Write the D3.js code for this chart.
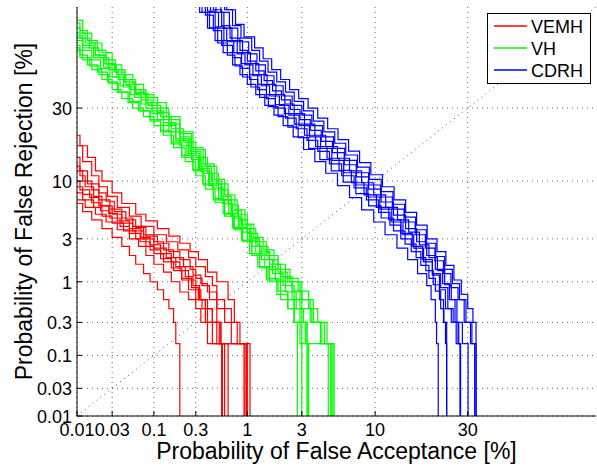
<!DOCTYPE html>
<html lang="en">
<head>
  <meta charset="UTF-8">
  <title>DET curves</title>
  <script src="https://d3js.org/d3.v7.min.js"></script>
  <style>
    body { margin: 0; padding: 0; background: #fff; }
    svg { display: block; font-family: "Liberation Sans", Arial, sans-serif; }
    .grid line { stroke: #666; stroke-width: 1; stroke-dasharray: 1,4; }
    .tick-label { font-size: 18px; fill: #000; }
    .axis-title { font-size: 23px; fill: #000; }
    .legend text { font-size: 18px; fill: #000; }
  </style>
</head>
<body>
  <div id="chart"></div>

  <script>
    // tick values in percent, shared by both axes
    const tickValues = [0.01, 0.03, 0.1, 0.3, 1, 3, 10, 30];
    const tickLabels = ['0.01', '0.03', '0.1', '0.3', '1', '3', '10', '30'];
    const axisLimits = [0.01, 70];

    const seriesNames = ['VEMH', 'VH', 'CDRH'];
    const seriesColors = ['#ff0000', '#00ff00', '#0000ff'];

    // each curve: [false acceptance %, false rejection %] points, drawn as steps
    const vemhCurves = [
      [[0,21],[0.011,18],[0.014,15],[0.018,12],[0.022,10],[0.03,8],[0.04,6.5],[0.06,5.2],[0.08,4.5],[0.11,3.8],[0.15,3.2],[0.2,2.7],[0.26,2.2],[0.32,1.8],[0.4,1.3],[0.5,1.0],[0.65,0.6],[0.75,0.3],[0.85,0.15],[1.06,0]],
      [[0,18],[0.012,14],[0.016,11],[0.02,9],[0.026,7.5],[0.035,6],[0.05,5],[0.07,4],[0.1,3.3],[0.14,2.8],[0.19,2.3],[0.25,1.9],[0.3,1.5],[0.38,1.15],[0.45,0.9],[0.5,0.6],[0.6,0.46],[0.7,0.3],[0.8,0.15],[0.95,0]],
      [[0,15],[0.011,12],[0.014,9.5],[0.02,8],[0.025,6.8],[0.032,5.5],[0.045,4.6],[0.06,3.9],[0.08,3.2],[0.11,2.7],[0.15,2.2],[0.2,1.8],[0.26,1.4],[0.3,1.1],[0.35,0.9],[0.42,0.6],[0.5,0.3],[0.53,0.15],[0.57,0]],
      [[0,12],[0.012,10],[0.016,8.5],[0.02,7],[0.028,5.8],[0.04,4.8],[0.055,4],[0.075,3.3],[0.1,2.8],[0.13,2.3],[0.17,1.9],[0.22,1.5],[0.28,1.2],[0.34,0.95],[0.4,0.75],[0.5,0.46],[0.6,0.3],[0.7,0.15],[0.98,0]],
      [[0,10],[0.011,8.5],[0.015,7.3],[0.02,6.2],[0.027,5.3],[0.035,4.5],[0.05,3.8],[0.07,3.1],[0.09,2.6],[0.12,2.1],[0.16,1.7],[0.2,1.35],[0.25,1.05],[0.3,0.8],[0.34,0.6],[0.4,0.46],[0.45,0.3],[0.55,0.15],[0.65,0]],
      [[0,8],[0.012,7],[0.017,6],[0.022,5],[0.03,4.3],[0.042,3.6],[0.06,3],[0.08,2.5],[0.1,2.1],[0.13,1.7],[0.17,1.35],[0.21,1.05],[0.25,0.8],[0.3,0.6],[0.35,0.46],[0.4,0.3],[0.45,0.15],[0.56,0]],
      [[0,7],[0.013,6],[0.018,5.2],[0.025,4.4],[0.035,3.7],[0.05,3],[0.065,2.5],[0.08,2],[0.1,1.6],[0.13,1.3],[0.16,1],[0.2,0.75],[0.25,0.6],[0.3,0.46],[0.34,0.3],[0.4,0.15],[0.93,0]],
      [[0,6.5],[0.012,5.5],[0.016,4.6],[0.022,3.8],[0.03,3.1],[0.04,2.5],[0.05,2],[0.06,1.6],[0.075,1.25],[0.09,1.0],[0.11,0.8],[0.13,0.6],[0.15,0.46],[0.17,0.3],[0.18,0.15],[0.2,0]],
      [[0,13],[0.011,11],[0.013,9],[0.017,7.5],[0.022,6.2],[0.03,5.2],[0.04,4.3],[0.055,3.6],[0.075,3],[0.1,2.4],[0.14,1.9],[0.18,1.5],[0.23,1.15],[0.28,0.9],[0.33,0.6],[0.38,0.46],[0.45,0.3],[0.5,0.15],[0.6,0]],
      [[0,9],[0.012,7.8],[0.016,6.6],[0.021,5.6],[0.028,4.8],[0.038,4],[0.05,3.4],[0.068,2.8],[0.09,2.3],[0.12,1.85],[0.16,1.45],[0.21,1.1],[0.27,0.85],[0.32,0.6],[0.38,0.3],[0.55,0.15],[1.0,0]]
    ];

    const vhCurves = [
      [[0,65],[0.012,60],[0.016,56],[0.022,52],[0.03,47],[0.04,43],[0.055,39],[0.075,35],[0.1,32],[0.14,27],[0.2,22],[0.28,17],[0.38,13],[0.5,9.5],[0.65,7],[0.8,5.2],[1.0,3.8],[1.2,2.8],[1.5,2.0],[1.9,1.4],[2.4,1.0],[3.0,0.6],[3.7,0.3],[4.5,0.15],[5.3,0]],
      [[0,62],[0.011,58],[0.015,54],[0.02,50],[0.027,45],[0.036,41],[0.05,37],[0.07,33],[0.095,29],[0.13,25],[0.18,20],[0.25,16],[0.33,12.5],[0.42,9.5],[0.55,7],[0.7,5],[0.85,3.8],[1.05,2.8],[1.3,2],[1.6,1.4],[2.0,1.0],[2.5,0.6],[2.9,0.3],[3.3,0.15],[5.1,0]],
      [[0,58],[0.012,54],[0.017,50],[0.023,46],[0.03,42],[0.042,38],[0.058,34],[0.08,30],[0.11,26],[0.15,22],[0.2,18],[0.27,14.5],[0.35,11.5],[0.45,8.8],[0.58,6.5],[0.72,4.8],[0.9,3.5],[1.1,2.5],[1.35,1.8],[1.7,1.25],[2.1,0.9],[2.6,0.46],[3.0,0.15],[3.3,0]],
      [[0,55],[0.011,51],[0.014,47],[0.019,44],[0.026,40],[0.035,36],[0.048,32],[0.065,29],[0.09,25.5],[0.12,22],[0.16,18.5],[0.21,15],[0.28,12],[0.36,9.3],[0.46,7],[0.6,5.2],[0.75,3.8],[0.9,2.9],[1.1,2.1],[1.3,1.5],[1.55,1.1],[1.9,0.77],[2.3,0.46],[2.6,0.3],[2.76,0]],
      [[0,60],[0.013,56],[0.018,51],[0.025,47],[0.034,43],[0.045,39],[0.06,35.5],[0.085,31],[0.12,27],[0.16,23],[0.22,19],[0.3,15],[0.4,11.5],[0.52,8.5],[0.65,6.3],[0.82,4.6],[1.0,3.4],[1.25,2.5],[1.55,1.8],[1.9,1.3],[2.3,1.0],[2.9,0.6],[3.5,0.3],[4.2,0.15],[5.0,0]],
      [[0,53],[0.012,49],[0.016,45],[0.022,41],[0.03,37],[0.04,33.5],[0.055,30],[0.075,27],[0.1,24],[0.13,21],[0.17,17.5],[0.23,14],[0.3,11],[0.38,8.6],[0.48,6.6],[0.6,5],[0.74,3.7],[0.9,2.8],[1.1,2.0],[1.3,1.45],[1.6,1.0],[2.0,0.6],[2.6,0.3],[3.2,0.15],[3.35,0]],
      [[0,64],[0.011,61],[0.014,57],[0.019,53],[0.025,49],[0.033,45],[0.044,41],[0.06,37],[0.08,34],[0.11,30],[0.15,26],[0.2,21.5],[0.27,17.5],[0.36,13.5],[0.47,10.3],[0.6,7.7],[0.76,5.7],[0.95,4.2],[1.15,3.1],[1.4,2.3],[1.75,1.6],[2.2,1.1],[2.8,0.77],[3.4,0.46],[4.0,0.3],[4.7,0.15],[5.2,0]],
      [[0,57],[0.012,53],[0.016,49],[0.021,45.5],[0.028,42],[0.038,38.5],[0.052,35],[0.07,31.5],[0.095,28],[0.13,24],[0.18,19.5],[0.24,15.5],[0.32,12],[0.41,9.2],[0.52,7],[0.66,5.3],[0.82,3.9],[1.0,2.9],[1.2,2.1],[1.45,1.5],[1.8,1.05],[2.2,0.75],[2.7,0.46],[3.1,0.3],[3.3,0.15],[3.4,0]],
      [[0,59],[0.012,55],[0.017,51],[0.024,47.5],[0.032,44],[0.043,40],[0.058,36],[0.08,32],[0.11,28.5],[0.15,24.5],[0.2,20.5],[0.26,16.5],[0.34,13],[0.44,10],[0.56,7.5],[0.7,5.6],[0.88,4.1],[1.08,3.0],[1.3,2.2],[1.6,1.6],[2.0,1.15],[2.5,0.77],[3.0,0.46],[3.6,0.3],[4.3,0.15],[4.8,0]],
      [[0,54],[0.011,50],[0.015,46.5],[0.02,43],[0.027,39.5],[0.036,36],[0.05,32.5],[0.068,29],[0.09,26],[0.12,22.5],[0.16,19],[0.21,15.5],[0.28,12.3],[0.36,9.5],[0.46,7.2],[0.58,5.3],[0.72,3.9],[0.88,2.9],[1.05,2.1],[1.25,1.5],[1.5,1.05],[1.85,0.7],[2.3,0.46],[2.6,0.3],[2.9,0.15],[3.0,0]]
    ];

    const cdrhCurves = [
      [[0.27,75],[0.33,68],[0.4,62],[0.48,57],[0.58,52],[0.72,47],[0.85,43],[1.0,39],[1.2,35],[1.45,31],[1.75,27.5],[2.1,24],[2.55,20.5],[3.1,17],[3.8,14],[4.6,11.5],[5.6,9.2],[6.8,7.3],[8.2,5.7],[9.8,4.4],[11.5,3.3],[13.5,2.4],[15.5,1.8],[17.5,1.25],[19.5,0.9],[20.5,0.6],[21.5,0.3],[21.8,0.15],[22.2,0]],
      [[0.31,75],[0.38,67],[0.46,61],[0.56,55],[0.72,50],[0.87,45.5],[1.05,41],[1.25,37],[1.5,33.5],[1.8,30],[2.2,26.5],[2.7,23],[3.3,19.5],[4.0,16.5],[4.9,13.5],[6.0,11],[7.3,8.8],[8.8,7],[10.5,5.4],[12.3,4.1],[14.2,3.0],[16.2,2.2],[18.2,1.55],[20,1.1],[21.5,0.77],[22.8,0.46],[23.6,0.3],[24.3,0]],
      [[0.36,75],[0.43,68],[0.52,62],[0.63,56.5],[0.8,51.5],[0.95,47],[1.13,42.5],[1.35,38.5],[1.6,34.5],[1.95,31],[2.35,27.5],[2.85,24],[3.45,20.5],[4.2,17.3],[5.1,14.3],[6.2,11.6],[7.5,9.3],[9.0,7.4],[10.7,5.8],[12.6,4.4],[14.6,3.3],[16.7,2.4],[18.8,1.7],[20.8,1.2],[22.5,0.8],[24,0.46],[25.5,0.3],[26.8,0.15],[27.9,0]],
      [[0.41,75],[0.49,68],[0.59,62],[0.71,57],[0.9,52],[1.07,47.5],[1.28,43],[1.52,39],[1.82,35],[2.17,31.5],[2.6,28],[3.15,24.5],[3.8,21],[4.6,17.8],[5.6,14.8],[6.8,12],[8.2,9.7],[9.8,7.7],[11.6,6],[13.6,4.6],[15.7,3.5],[17.9,2.6],[20,1.9],[22,1.35],[23.8,0.92],[25.5,0.6],[27,0.3],[28.5,0.15],[30.1,0]],
      [[0.46,75],[0.55,68],[0.67,62],[0.81,56.5],[1.03,51.5],[1.23,47],[1.47,42.5],[1.75,38.5],[2.1,34.5],[2.5,31],[3.0,27.5],[3.6,24],[4.35,20.5],[5.25,17.3],[6.3,14.3],[7.6,11.6],[9.1,9.3],[10.8,7.4],[12.7,5.8],[14.8,4.4],[17,3.3],[19.2,2.4],[21.4,1.75],[23.5,1.25],[25.4,0.85],[27.3,0.6],[29,0.3],[30.8,0.15],[32.4,0]],
      [[0.5,75],[0.6,69],[0.72,63],[0.87,58],[1.1,53],[1.3,48.5],[1.55,44],[1.85,40],[2.2,36],[2.6,32.5],[3.1,29],[3.7,25.5],[4.45,22],[5.35,18.7],[6.4,15.6],[7.7,12.8],[9.2,10.3],[10.9,8.2],[12.8,6.4],[14.9,4.9],[17.1,3.7],[19.4,2.7],[21.6,1.95],[23.8,1.4],[25.8,0.95],[27.7,0.6],[29.5,0.3],[31.2,0.15],[32,0]],
      [[0.29,75],[0.35,68],[0.42,62],[0.51,56],[0.64,51],[0.76,46.5],[0.9,42],[1.08,38],[1.3,34],[1.56,30.5],[1.9,27],[2.3,23.5],[2.8,20.3],[3.4,17.3],[4.15,14.5],[5.05,12],[6.15,9.8],[7.5,7.9],[9.1,6.2],[10.9,4.8],[12.9,3.6],[15,2.65],[17.2,1.9],[19.3,1.35],[21,0.92],[22.5,0.6],[23.5,0.3],[24,0.15],[24.3,0]],
      [[0.38,75],[0.46,69],[0.56,63],[0.68,58],[0.85,53],[1.0,48.5],[1.2,44.5],[1.43,40.5],[1.7,36.5],[2.03,33],[2.42,29.5],[2.9,26],[3.5,22.5],[4.25,19.2],[5.15,16.2],[6.25,13.3],[7.55,10.8],[9.1,8.6],[10.9,6.7],[12.9,5.1],[15.1,3.8],[17.3,2.8],[19.5,2.0],[21.5,1.4],[23.3,0.95],[25,0.6],[26.5,0.3],[27.5,0.15],[28,0]],
      [[0.33,75],[0.4,68.5],[0.48,62.5],[0.59,57],[0.74,52],[0.88,47.5],[1.05,43],[1.25,39],[1.5,35],[1.8,31.3],[2.15,28],[2.6,24.5],[3.15,21],[3.85,17.8],[4.7,14.8],[5.75,12.1],[7.0,9.7],[8.5,7.7],[10.2,6],[12.1,4.6],[14.2,3.4],[16.4,2.5],[18.6,1.8],[20.8,1.25],[22.8,0.85],[24.6,0.46],[26,0.3],[27.3,0.15],[27.9,0]],
      [[0.53,75],[0.63,69],[0.77,63.5],[0.93,58.5],[1.17,54],[1.4,49.5],[1.67,45],[2.0,41],[2.38,37],[2.83,33.5],[3.37,30],[4.0,26.5],[4.75,23],[5.65,19.7],[6.7,16.6],[7.95,13.8],[9.4,11.2],[11.1,9],[13,7],[15.1,5.4],[17.3,4.1],[19.6,3.0],[21.9,2.2],[24.1,1.55],[26.2,1.05],[28.2,0.7],[30,0.46],[31.5,0.3],[32.4,0]]
    ];

    const allSeries = [vemhCurves, vhCurves, cdrhCurves];

    // inverse normal CDF (Acklam), used for the DET probit axes
    function probit(p) {
      const a = [-39.69683028665376, 220.9460984245205, -275.9285104469687, 138.3577518672690, -30.66479806614716, 2.506628277459239];
      const b = [-54.47609879822406, 161.5858368580409, -155.6989798598866, 66.80131188771972, -13.28068155288572];
      const c = [-0.007784894002430293, -0.3223964580411365, -2.400758277161838, -2.549732539343734, 4.374664141464968, 2.938163982698783];
      const d = [0.007784695709041462, 0.3224671290700398, 2.445134137142996, 3.754408661907416];
      const pl = 0.02425;
      let q, r;
      if (p < pl) {
        q = Math.sqrt(-2 * Math.log(p));
        return (((((c[0]*q+c[1])*q+c[2])*q+c[3])*q+c[4])*q+c[5]) / ((((d[0]*q+d[1])*q+d[2])*q+d[3])*q+1);
      } else if (p <= 1 - pl) {
        q = p - 0.5; r = q * q;
        return (((((a[0]*r+a[1])*r+a[2])*r+a[3])*r+a[4])*r+a[5])*q / (((((b[0]*r+b[1])*r+b[2])*r+b[3])*r+b[4])*r+1);
      }
      q = Math.sqrt(-2 * Math.log(1 - p));
      return -(((((c[0]*q+c[1])*q+c[2])*q+c[3])*q+c[4])*q+c[5]) / ((((d[0]*q+d[1])*q+d[2])*q+d[3])*q+1);
    }
    const pz = v => probit(Math.max(v / 100, 1e-6));

    const width = 597, height = 469;
    const plotLeft = 77, plotRight = 596, plotTop = 7, plotBottom = 416;

    const x = d3.scaleLinear().domain(axisLimits.map(pz)).range([plotLeft, plotRight]);
    const y = d3.scaleLinear().domain(axisLimits.map(pz)).range([plotBottom, plotTop]);

    const svg = d3.select('#chart').append('svg')
      .attr('width', width)
      .attr('height', height);

    svg.append('rect').attr('width', width).attr('height', height).attr('fill', '#fff');

    svg.append('clipPath').attr('id', 'plot-clip')
      .append('rect')
      .attr('x', plotLeft).attr('y', plotTop)
      .attr('width', plotRight - plotLeft).attr('height', plotBottom - plotTop);

    // dotted grid
    const grid = svg.append('g').attr('class', 'grid');
    grid.selectAll('.gx').data(tickValues).enter().append('line')
      .attr('x1', d => x(pz(d))).attr('x2', d => x(pz(d)))
      .attr('y1', plotTop).attr('y2', plotBottom);
    grid.selectAll('.gy').data(tickValues).enter().append('line')
      .attr('y1', d => y(pz(d))).attr('y2', d => y(pz(d)))
      .attr('x1', plotLeft).attr('x2', plotRight);

    // equal error diagonal
    svg.append('line')
      .attr('x1', x(pz(axisLimits[0]))).attr('y1', y(pz(axisLimits[0])))
      .attr('x2', x(pz(axisLimits[1]))).attr('y2', y(pz(axisLimits[1])))
      .attr('stroke', '#555').attr('stroke-width', 1).attr('stroke-dasharray', '1,4');

    const line = d3.line()
      .x(d => x(pz(d[0])))
      .y(d => y(pz(d[1])))
      .curve(d3.curveStepAfter);

    const curves = svg.append('g').attr('clip-path', 'url(#plot-clip)');
    allSeries.forEach((series, i) => {
      curves.append('g').selectAll('path')
        .data(series)
        .enter().append('path')
        .attr('d', line)
        .attr('fill', 'none')
        .attr('stroke', seriesColors[i])
        .attr('stroke-width', 1.2);
    });

    // axes lines and inward ticks
    const axes = svg.append('g').attr('stroke', '#000').attr('stroke-width', 1);
    axes.append('line').attr('x1', plotLeft).attr('x2', plotLeft).attr('y1', plotTop).attr('y2', plotBottom + 0.5);
    axes.append('line').attr('x1', plotLeft).attr('x2', plotRight).attr('y1', plotBottom).attr('y2', plotBottom);
    axes.selectAll('.tx').data(tickValues).enter().append('line')
      .attr('x1', d => x(pz(d))).attr('x2', d => x(pz(d)))
      .attr('y1', plotBottom).attr('y2', plotBottom - 5);
    axes.selectAll('.ty').data(tickValues).enter().append('line')
      .attr('y1', d => y(pz(d))).attr('y2', d => y(pz(d)))
      .attr('x1', plotLeft).attr('x2', plotLeft + 5);

    svg.selectAll('.xl').data(tickValues).enter().append('text')
      .attr('class', 'tick-label')
      .attr('x', d => x(pz(d)))
      .attr('y', 436)
      .attr('text-anchor', 'middle')
      .text((d, i) => tickLabels[i]);

    svg.selectAll('.yl').data(tickValues).enter().append('text')
      .attr('class', 'tick-label')
      .attr('x', 72)
      .attr('y', d => y(pz(d)) + 7)
      .attr('text-anchor', 'end')
      .text((d, i) => tickLabels[i]);

    svg.append('text').attr('class', 'axis-title')
      .attr('x', (plotLeft + plotRight) / 2).attr('y', 459)
      .attr('text-anchor', 'middle')
      .text('Probability of False Acceptance [%]');

    svg.append('text').attr('class', 'axis-title')
      .attr('transform', `translate(32,${(plotTop + plotBottom) / 2}) rotate(-90)`)
      .attr('text-anchor', 'middle')
      .text('Probability of False Rejection [%]');

    // legend
    const legend = svg.append('g').attr('class', 'legend');
    legend.append('rect')
      .attr('x', 487.5).attr('y', 13.5).attr('width', 103).attr('height', 70)
      .attr('fill', '#fff').attr('stroke', '#000').attr('stroke-width', 1);
    seriesNames.forEach((name, i) => {
      const ly = 26 + i * 22;
      legend.append('line')
        .attr('x1', 494).attr('x2', 527).attr('y1', ly).attr('y2', ly)
        .attr('stroke', seriesColors[i]).attr('stroke-width', 1.5);
      legend.append('text').attr('x', 531).attr('y', ly + 6.5).text(name);
    });
  </script>
</body>
</html>
